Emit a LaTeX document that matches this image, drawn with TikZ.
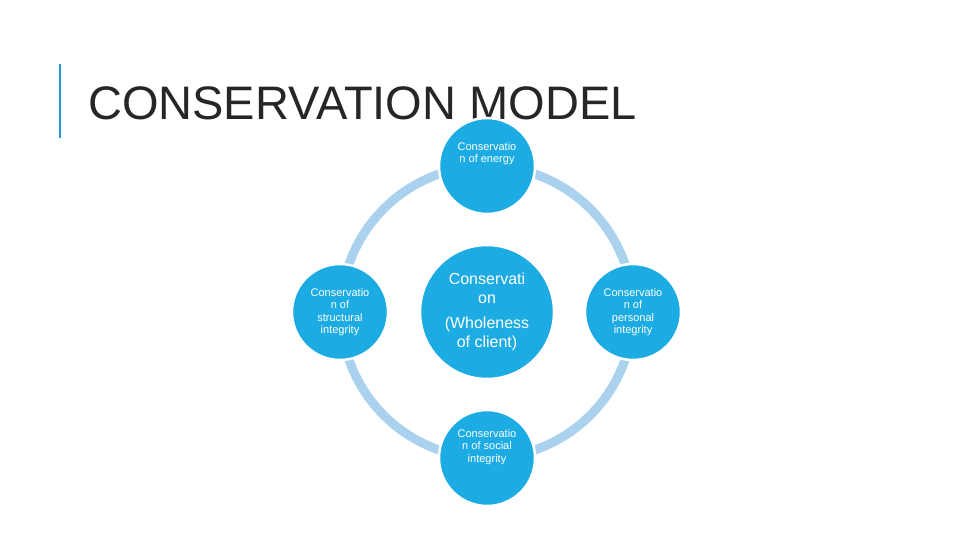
\documentclass[tikz,border=0pt]{standalone}
\usepackage{fontspec}
\setmainfont{Liberation Sans}
\definecolor{cblue}{HTML}{1CACE3}
\definecolor{ring}{HTML}{AAD2EF}
\definecolor{bar}{HTML}{1F9BD7}
\begin{document}
\begin{tikzpicture}[x=1pt,y=-1pt,
 bub/.style={circle,fill=cblue,draw=white,line width=2.5pt,text=white,align=center,inner sep=0pt,font=\fontsize{11}{12.5}\selectfont}]
\useasboundingbox (0,0) rectangle (960,540);
\fill[white] (0,0) rectangle (960,540);
\draw[bar,line width=2.5pt] (60,64) -- (60,138);
\node[anchor=base west,inner sep=0pt,font=\fontsize{47}{50}\selectfont,text=black!85] (title) at (88,120) {CONSERVATION MODEL};
\draw[ring,line width=9pt] (487,312) circle (146);
\node[bub,minimum size=134pt,font=\fontsize{16}{19}\selectfont] (c) at (487,312) {Conservati\\on\\[6pt](Wholeness\\of client)};
\node[bub,minimum size=96pt] (t) at (487,166) {Conservatio\\n of energy\\[14pt]};
\node[bub,minimum size=96pt] (l) at (340,312) {Conservatio\\n of\\structural\\integrity};
\node[bub,minimum size=96pt] (r) at (633,312) {Conservatio\\n of\\personal\\integrity};
\node[bub,minimum size=96pt] (b) at (487,458) {Conservatio\\n of social\\integrity\\[12pt]};
\end{tikzpicture}
\end{document}
